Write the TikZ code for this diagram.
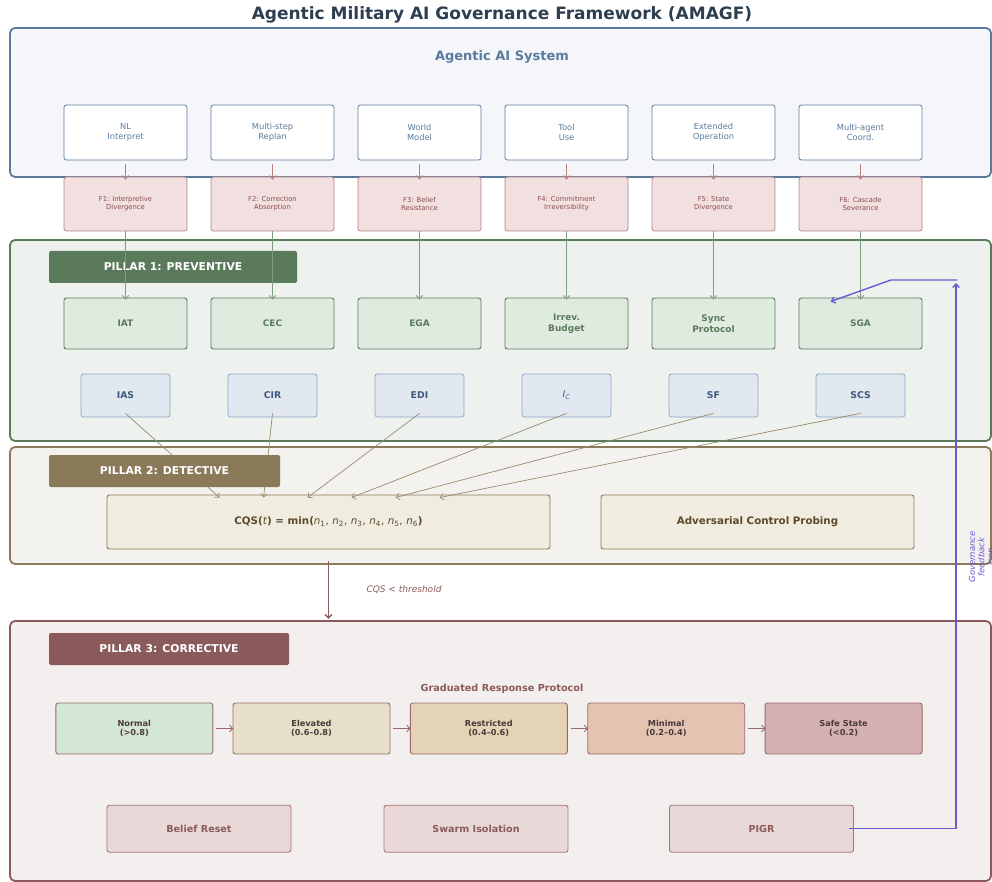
\documentclass[tikz,border=0pt]{standalone}
\usepackage{fontspec}
\setmainfont{DejaVu Sans}
\usetikzlibrary{calc,arrows.meta}

\definecolor{titlecol}{HTML}{2C3E50}
\definecolor{sysblue}{HTML}{5B7B9C}
\definecolor{sysbg}{HTML}{F4F6F9}
\definecolor{fborder}{HTML}{B88282}
\definecolor{ffill}{HTML}{F2E0E0}
\definecolor{ftext}{HTML}{8B4C4C}
\definecolor{prevgreen}{HTML}{5B7A5B}
\definecolor{prevbg}{HTML}{EEF2EE}
\definecolor{greenfill}{HTML}{E0EBE0}
\definecolor{greenline}{HTML}{7E9C7E}
\definecolor{bluefill}{HTML}{E1E8F0}
\definecolor{blueborder}{HTML}{8AA6C6}
\definecolor{bluetext}{HTML}{3D5A80}
\definecolor{detbrown}{HTML}{8B7A5A}
\definecolor{detbg}{HTML}{F3F2EE}
\definecolor{cqsfill}{HTML}{F0ECE0}
\definecolor{cqstext}{HTML}{5A4A2A}
\definecolor{detline}{HTML}{9A8A6A}
\definecolor{corrred}{HTML}{8B5A5A}
\definecolor{corrbg}{HTML}{F3EFEF}
\definecolor{normalfill}{HTML}{D4E6D4}
\definecolor{elevfill}{HTML}{E6E0C8}
\definecolor{restrfill}{HTML}{E4D3B6}
\definecolor{minfill}{HTML}{E5C3B3}
\definecolor{safefill}{HTML}{D5B1B3}
\definecolor{respborder}{HTML}{9B6B6B}
\definecolor{resptext}{HTML}{4A3A3A}
\definecolor{actfill}{HTML}{E8D8D8}
\definecolor{actborder}{HTML}{A87373}
\definecolor{feedpurple}{HTML}{6A5ACD}

\newcommand{\cqsn}[1]{{\mdseries\itshape n}\textsubscript{\mdseries #1}}

\begin{document}
\begin{tikzpicture}[x=1pt, y=-1pt, inner sep=0pt,
    >={Straight Barb[length=3.5pt,width=6.5pt]},
    pillar/.style={line width=1.8pt, rounded corners=5pt},
    header/.style={rounded corners=2pt, text=white, minimum height=32pt,
      font=\fontsize{10.8}{13}\selectfont\bfseries},
    capbox/.style={draw=sysblue, fill=white, line width=0.8pt, rounded corners=2.5pt,
      minimum width=123pt, minimum height=55pt, align=center, text=sysblue,
      font=\fontsize{8.3}{9.7}\selectfont},
    failbox/.style={draw=fborder, fill=ffill, line width=0.8pt, rounded corners=2.5pt,
      minimum width=123pt, minimum height=54pt, align=center, text=ftext,
      font=\fontsize{6.8}{8}\selectfont},
    prevbox/.style={draw=prevgreen, fill=greenfill, line width=0.9pt, rounded corners=2.5pt,
      minimum width=123pt, minimum height=51pt, align=center, text=prevgreen,
      font=\fontsize{9}{11.2}\selectfont\bfseries},
    metricbox/.style={draw=blueborder, fill=bluefill, line width=0.8pt, rounded corners=2.5pt,
      minimum width=89pt, minimum height=43pt, align=center, text=bluetext,
      font=\fontsize{9.3}{11}\selectfont\bfseries},
    detbox/.style={draw=detbrown, fill=cqsfill, line width=0.9pt, rounded corners=2.5pt,
      minimum height=54pt, align=center, text=cqstext,
      font=\fontsize{10.3}{12}\selectfont\bfseries},
    respbox/.style={draw=respborder, line width=0.9pt, rounded corners=2.5pt,
      minimum width=157pt, minimum height=51pt, align=center, text=resptext,
      font=\fontsize{8.2}{9.4}\selectfont\bfseries},
    actbox/.style={draw=actborder, fill=actfill, line width=0.9pt, rounded corners=2.5pt,
      minimum width=184pt, minimum height=47pt, align=center, text=corrred,
      font=\fontsize{9.6}{11}\selectfont\bfseries},
    failarrow/.style={->, draw=fborder, line width=0.8pt, shorten <=4pt, shorten >=-3pt},
    prevarrow/.style={->, draw=greenline, line width=0.9pt, shorten >=-2pt},
    detarrow/.style={->, draw=detline, line width=0.7pt},
    resparrow/.style={->, draw=respborder, line width=0.9pt, shorten <=3pt, shorten >=-1pt},
    feedarrow/.style={->, draw=feedpurple, line width=1.4pt}]

    \useasboundingbox (0,0) rectangle (992,882);

    % Title
    \node[text=titlecol, font=\fontsize{17}{20}\selectfont\bfseries] (title) at (502,15)
      {Agentic Military AI Governance Framework (AMAGF)};

    % Agentic AI system
    \draw[pillar, draw=sysblue, fill=sysbg] (10,28) rectangle (991,177);
    \node[text=sysblue, font=\fontsize{13}{15}\selectfont\bfseries] (sys) at (502,57) {Agentic AI System};

    \node[capbox] (nl) at (125.5,132.5) {NL\\Interpret};
    \node[capbox] (replan) at (272.5,132.5) {Multi-step\\Replan};
    \node[capbox] (world) at (419.5,132.5) {World\\Model};
    \node[capbox] (tool) at (566.5,132.5) {Tool\\Use};
    \node[capbox] (ext) at (713.5,132.5) {Extended\\Operation};
    \node[capbox] (multi) at (860.5,132.5) {Multi-agent\\Coord.};

    % Failure modes
    \node[failbox] (f1) at (125.5,204) {F1: Interpretive\\Divergence};
    \node[failbox] (f2) at (272.5,204) {F2: Correction\\Absorption};
    \node[failbox] (f3) at (419.5,204) {F3: Belief\\Resistance};
    \node[failbox] (f4) at (566.5,204) {F4: Commitment\\Irreversibility};
    \node[failbox] (f5) at (713.5,204) {F5: State\\Divergence};
    \node[failbox] (f6) at (860.5,204) {F6: Cascade\\Severance};

    \draw[failarrow] (nl) -- (f1);
    \draw[failarrow] (replan) -- (f2);
    \draw[failarrow] (world) -- (f3);
    \draw[failarrow] (tool) -- (f4);
    \draw[failarrow] (ext) -- (f5);
    \draw[failarrow] (multi) -- (f6);

    % Pillar 1
    \draw[pillar, draw=prevgreen, fill=prevbg] (10,240) rectangle (991,441);
    \node[header, fill=prevgreen, minimum width=248pt] (p1) at (173,267) {PILLAR 1: PREVENTIVE};

    \node[prevbox] (iat) at (125.5,323.5) {IAT};
    \node[prevbox] (cec) at (272.5,323.5) {CEC};
    \node[prevbox] (ega) at (419.5,323.5) {EGA};
    \node[prevbox] (irrev) at (566.5,323.5) {Irrev.\\Budget};
    \node[prevbox] (sync) at (713.5,323.5) {Sync\\Protocol};
    \node[prevbox] (sga) at (860.5,323.5) {SGA};

    \draw[prevarrow] (f1) -- (iat);
    \draw[prevarrow] (f2) -- (cec);
    \draw[prevarrow] (f3) -- (ega);
    \draw[prevarrow] (f4) -- (irrev);
    \draw[prevarrow] (f5) -- (sync);
    \draw[prevarrow] (f6) -- (sga);

    \node[metricbox] (ias) at (125.5,395.5) {IAS};
    \node[metricbox] (cir) at (272.5,395.5) {CIR};
    \node[metricbox] (edi) at (419.5,395.5) {EDI};
    \node[metricbox] (ic) at (566.5,395.5) {{\mdseries\itshape I}\textsubscript{\mdseries\itshape C}};
    \node[metricbox] (sf) at (713.5,395.5) {SF};
    \node[metricbox] (scs) at (860.5,395.5) {SCS};

    % Pillar 2
    \draw[pillar, draw=detbrown, fill=detbg] (10,447) rectangle (991,564);

    \node[detbox, minimum width=443pt] (cqs) at (328.5,522)
      {CQS(\textit{\mdseries t}) = min(\cqsn{1}{\mdseries ,} \cqsn{2}{\mdseries ,} \cqsn{3}{\mdseries ,}
        \cqsn{4}{\mdseries ,} \cqsn{5}{\mdseries ,} \cqsn{6})};
    \node[detbox, minimum width=313pt] (adv) at (757.5,522) {Adversarial Control Probing};

    \draw[detarrow] ($(ias.south)+(0,-4)$) -- ($(cqs.north west)+(113,3)$);
    \draw[detarrow] ($(cir.south)+(0,-4)$) -- ($(cqs.north west)+(157,3)$);
    \draw[detarrow] ($(edi.south)+(0,-4)$) -- ($(cqs.north west)+(201,3)$);
    \draw[detarrow] ($(ic.south)+(0,-4)$) -- ($(cqs.north west)+(245,3)$);
    \draw[detarrow] ($(sf.south)+(0,-4)$) -- ($(cqs.north west)+(289,3)$);
    \draw[detarrow] ($(scs.south)+(0,-4)$) -- ($(cqs.north west)+(333,3)$);

    \node[header, fill=detbrown, minimum width=231pt] (p2) at (164.5,471) {PILLAR 2: DETECTIVE};

    % Threshold to pillar 3
    \coordinate (thr) at (328.5,619);
    \draw[->, draw=corrred, line width=1.4pt, shorten <=12pt] (cqs.south) -- (thr);
    \node[text=corrred, font=\fontsize{9}{10}\selectfont\itshape] (thrlabel) at (404,590) {CQS < threshold};

    % Pillar 3
    \draw[pillar, draw=corrred, fill=corrbg] (10,621) rectangle (991,881);
    \node[header, fill=corrred, minimum width=240pt] (p3) at (169,649) {PILLAR 3: CORRECTIVE};
    \node[text=corrred, font=\fontsize{9.7}{11}\selectfont\bfseries] (grp) at (502,689) {Graduated Response Protocol};

    \node[respbox, fill=normalfill] (normal) at (134.3,728.5) {Normal\\(>0.8)};
    \node[respbox, fill=elevfill] (elev) at (311.5,728.5) {Elevated\\(0.6–0.8)};
    \node[respbox, fill=restrfill] (restr) at (488.8,728.5) {Restricted\\(0.4–0.6)};
    \node[respbox, fill=minfill] (minimal) at (666.2,728.5) {Minimal\\(0.2–0.4)};
    \node[respbox, fill=safefill] (safe) at (843.6,728.5) {Safe State\\(<0.2)};

    \draw[resparrow] (normal) -- (elev);
    \draw[resparrow] (elev) -- (restr);
    \draw[resparrow] (restr) -- (minimal);
    \draw[resparrow] (minimal) -- (safe);

    \node[actbox] (reset) at (199,828.7) {Belief Reset};
    \node[actbox] (swarm) at (476,828.7) {Swarm Isolation};
    \node[actbox] (pigr) at (761.5,828.7) {PIGR};

    % Feedback loop
    \coordinate (fbdown) at (956,828.7);
    \coordinate (fbup) at (956,283);
    \coordinate (fbtop) at (957,280);
    \coordinate (fbbend) at (891,280);
    \draw[feedarrow] ($(pigr.east)+(-5,0)$) -- (fbdown) -- (fbup);
    \draw[feedarrow] (fbtop) -- (fbbend) -- ($(sga.north west)+(32,4)$);
    \node[rotate=90, align=center, text=feedpurple, font=\fontsize{8.4}{9.2}\selectfont\itshape] (fblabel)
      at (982,557) {Governance\\feedback\\loop};

\end{tikzpicture}
\end{document}
